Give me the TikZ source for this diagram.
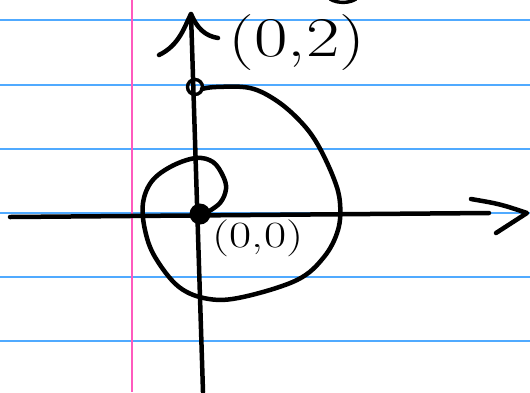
\documentclass[tikz,border=0pt]{standalone}
\usepackage{fontspec}
\setmainfont{Latin Modern Roman}
\usetikzlibrary{positioning}
\definecolor{ruled}{RGB}{80,170,255}
\definecolor{margin}{RGB}{255,90,190}
\tikzset{
  pen/.style={line width=4.5pt, line cap=round, line join=round},
  ink/.style={inner sep=0pt},
}
\begin{document}
\begin{tikzpicture}[x=1pt, y=-1pt]
    % page of ruled paper
    \useasboundingbox (0,0) rectangle (530,392);
    \fill[white] (0,0) rectangle (530,392);
    \foreach \y in {20,85,149,213,277,341}
        \draw[ruled, line width=1.4pt] (0,\y) -- (530,\y);
    \draw[margin, line width=1.4pt] (132,0) -- (132,392);

    % axes
    \coordinate (xl) at (10,217);
    \coordinate (xr) at (489,213);
    \coordinate (xtip) at (527,213);
    \coordinate (yb) at (203,392);
    \coordinate (ytip) at (191,14);
    \draw[pen] (xl) -- (xr);
    \draw[pen] (yb) -- (ytip);
    \draw[pen] (471,199) .. controls (500,204) .. (xtip) -- (496,233);
    \draw[pen] (159,55) .. controls (180,45) and (185,25) .. (ytip)
               .. controls (197,28) and (205,36) .. (218,38);

    % points
    \node[circle, fill, minimum width=18pt, minimum height=21pt, inner sep=0pt] (o) at (200,214) {};
    \node[circle, draw, line width=3.4pt, minimum size=15pt, inner sep=0pt] (top) at (195,87) {};

    % the spiral
    \draw[pen] plot[smooth, tension=0.6] coordinates {
        (206,213) (220,203) (226,189) (223,176) (213,162) (196,158)
        (172,166) (152,181) (143,203) (145,230) (155,257) (179,287)
        (209,299) (243,297) (297,280) (324,257) (338,230) (340,203)
        (334,179) (318,145) (301,122) (277,101) (250,88) (216,87) (202,89)};

    % labels
    \node[ink, font=\fontsize{56}{56}\selectfont, xscale=1.3] (lbltop) at (297,43) {(0,2)};
    \node[ink, font=\fontsize{37}{37}\selectfont, xscale=1.3] (lblo) at (258,238) {(0,0)};
    \draw[line width=3.4pt, line cap=round] (330,-1) .. controls (338,4) and (350,3) .. (356,-1);
\end{tikzpicture}
\end{document}
